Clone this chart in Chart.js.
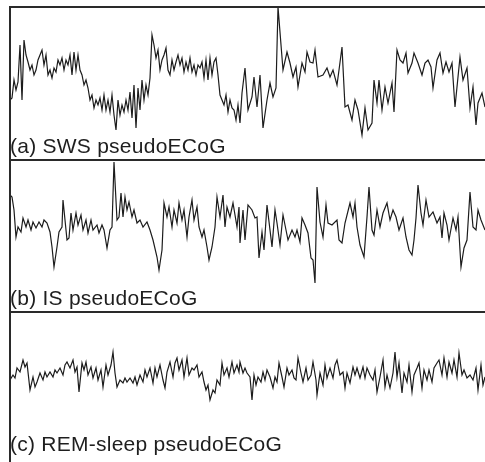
<!DOCTYPE html>
<html>
<head>
<meta charset="utf-8">
<script src="https://cdn.jsdelivr.net/npm/chart.js@4.4.1/dist/chart.umd.min.js"></script>
<style>
  html, body { margin: 0; padding: 0; background: #fff; }
  body { width: 485px; height: 462px; position: relative; overflow: hidden; }
  .panel { position: absolute; left: 10px; width: 475px; }
  .rule { position: absolute; background: #2a2a2a; }
  .label {
    position: absolute; left: 10px;
    font-family: "Liberation Sans", Arial, sans-serif;
    font-size: 21px; line-height: 21px; color: #1e1e1e;
    letter-spacing: 0.25px; white-space: nowrap;
  }
</style>
</head>
<body>
<div class="panel" style="top:7px;height:153px"><canvas id="chartA"></canvas></div>
<div class="panel" style="top:160px;height:152px"><canvas id="chartB"></canvas></div>
<div class="panel" style="top:312px;height:150px"><canvas id="chartC"></canvas></div>

<div class="rule" style="left:9px;top:6px;width:476px;height:2px"></div>
<div class="rule" style="left:9px;top:159px;width:476px;height:2px"></div>
<div class="rule" style="left:9px;top:311px;width:476px;height:2px"></div>
<div class="rule" style="left:9px;top:6px;width:2px;height:456px"></div>

<div class="label" style="top:135px">(a) SWS pseudoECoG</div>
<div class="label" style="top:287px">(b) IS pseudoECoG</div>
<div class="label" style="top:433px">(c) REM-sleep pseudoECoG</div>

<script>
// time in units of 10 ms, amplitude in arbitrary units

// --- (a) SWS ---
const aTime = [
  0,2,4,6,8,10,12,14,16,18,
  20,22,24,26,28,30,32,34,36,38,
  40,42,44,46,48,50,52,54,56,58,
  60,62,64,66,68,70,72,74,76,78,
  80,82,84,86,88,90,92,94,96,98,
  100,102,104,106,108,110,112,114,116,118,
  120,122,124,126,128,130,132,134,136,138,
  140,142,144,146,148,150,152,154,156,158,
  160,162,164,166,168,170,172,174,176,178,
  180,182,184,186,188,190,192,194,196,198,
  200,202,204,206,208,210,212,214,216,218,
  220,222,224,226,228,
  230,232,235,238,242,244,247,250,253,257,
  260,263,266,268,273,277,280,283,286,288,
  292,295,297,300,303,305,308,313,317,320,
  323,327,329,332,335,338,342,345,348,352,
  355,358,362,364,367,369,372,375,378,382,
  384,387,390,393,396,398,402,404,408,412,
  415,418,421,423,427,430,433,436,439,442,
  445,450,453,457,460,463,466,468,472,475
];
const aAmp = [
  -15,-13,5,-5,3,40,-15,45,30,23,
  15,20,10,15,25,30,35,20,30,10,
  15,7,17,13,25,20,27,15,25,20,
  30,10,33,15,30,15,10,0,5,-3,
  -15,-10,-23,-15,-20,-13,-25,-10,-25,-15,
  -27,-10,-30,-45,-15,-30,-20,-27,-15,-25,
  -7,-33,0,-43,-3,-25,5,-15,0,-10,
  7,50,40,27,35,15,25,30,37,15,
  10,25,15,23,30,20,27,13,23,15,
  27,13,20,10,20,17,23,7,25,5,
  27,10,23,27,10,-10,-15,-20,-10,-27,
  -15,-23,-25,-35,-20,
  -38,-8,17,-25,-12,8,-22,10,-43,-15,
  2,-12,-3,78,15,33,22,8,18,-2,
  22,13,33,23,22,35,8,10,17,8,
  15,0,15,38,-22,-20,-35,-15,-25,-50,
  -23,-45,-38,5,-18,5,-25,-2,-18,2,
  -27,35,25,22,32,12,22,32,22,10,
  22,25,18,-3,25,32,12,23,13,22,
  -22,28,5,17,-23,-2,-40,-18,-8,-22
];

// --- (b) IS ---
const bTime = [
  0,2,4,6,8,11,13,16,18,21,
  23,26,29,32,34,37,40,42,44,47,
  49,52,53,55,57,59,61,63,66,68,
  71,73,76,78,81,83,87,89,92,94,
  97,100,102,104,107,109,111,113,115,117,
  119,122,124,127,130,133,137,140,143,147,
  149,152,154,157,159,162,164,167,169,172,
  174,177,179,182,184,187,189,192,194,197,
  199,202,205,207,210,213,215,217,220,223,
  227,229,230,233,235,238,242,245,247,249,
  252,254,257,260,262,265,267,270,273,276,
  278,282,285,287,290,292,295,298,301,303,
  305,307,310,313,316,318,322,327,329,332,
  335,340,343,345,347,350,354,357,359,362,
  364,367,370,373,377,380,383,386,389,393,
  396,399,402,404,406,408,411,413,416,419,
  423,427,430,432,434,437,439,443,446,448,
  451,454,457,460,463,466,468,471,475
];
const bAmp = [
  35,33,20,-7,3,-2,12,3,10,0,
  8,2,8,3,10,7,-2,-17,-37,-17,
  -2,3,30,10,-10,-8,17,0,17,5,
  15,0,10,-3,10,0,5,-3,5,0,
  -18,0,3,68,10,13,37,13,33,20,
  28,13,20,7,10,3,8,0,-10,-27,
  -40,-20,27,13,23,3,20,7,27,10,
  20,-7,13,30,10,23,3,-7,0,-17,
  -30,-17,3,33,13,35,3,23,13,27,
  3,23,-13,20,-10,25,20,12,13,-28,
  -2,-20,25,0,-17,20,7,-15,15,0,
  -10,0,-7,0,-12,12,5,-3,-28,-30,
  -53,43,8,-7,25,7,5,10,-10,-13,
  7,27,13,27,3,-15,-27,13,43,0,
  -5,20,3,17,27,10,20,13,0,12,
  -7,-20,-25,-10,12,45,17,5,30,13,
  18,7,13,-8,17,5,-10,12,0,13,
  -37,-18,-10,38,3,0,20,10,0
];

// --- (c) REM-sleep ---
const cTime = [
  0,3,5,7,10,13,15,17,20,23,
  25,27,30,33,35,37,40,43,45,47,
  50,53,55,57,60,63,65,67,69,72,
  74,76,78,81,83,86,88,91,93,96,
  98,101,103,105,107,110,113,115,117,120,
  123,125,127,130,133,135,137,140,143,145,
  147,150,153,155,157,160,163,165,167,169,
  172,174,177,179,182,184,187,189,192,194,
  196,198,200,203,205,207,210,212,214,217,
  219,222,224,227,229,230,233,235,237,240,
  242,244,246,248,251,253,255,257,260,263,
  265,267,269,272,274,277,279,282,284,286,
  288,291,293,296,298,301,303,306,307,310,
  313,315,317,320,323,325,327,330,333,335,
  337,340,343,345,347,350,353,355,357,360,
  363,365,367,370,373,375,377,380,383,385,
  387,389,392,394,397,399,402,404,407,409,
  412,414,417,419,422,424,427,429,432,434,
  437,439,442,444,447,449,452,454,457,460,
  463,466,468,471,473,475
];
const cAmp = [
  -3,2,-1,9,5,17,10,14,-13,0,
  -10,-5,4,-3,5,0,5,0,7,4,
  9,2,12,15,9,17,5,10,-15,14,
  7,15,2,10,-1,9,-3,7,-10,12,
  2,12,25,4,-10,-3,-6,-1,-5,-1,
  -6,0,-8,2,-5,7,0,9,-6,9,
  0,12,-3,-11,5,15,0,14,19,7,
  17,0,19,2,9,7,12,0,5,-5,
  -13,-8,-23,-13,-16,-3,-8,14,2,9,
  0,15,4,12,5,15,4,9,4,0,
  -23,2,-8,0,-5,5,-3,7,0,-11,
  0,-5,14,0,-10,9,2,7,-1,-3,
  19,4,-5,9,-3,2,15,-3,-18,4,
  -8,12,-1,9,-1,12,17,2,5,-11,
  4,-6,10,2,9,-1,10,-1,9,2,
  -3,7,-15,0,17,-10,2,-11,4,25,
  0,14,-16,4,-5,12,-15,2,9,14,
  -11,7,-3,7,-5,9,14,17,2,19,
  0,15,4,17,0,24,2,7,-1,2,
  -3,9,-13,12,-8,0
];

const panels = [
  { id: 'chartA', time: aTime, amp: aAmp, yMin: -75, yMax: 78 },
  { id: 'chartB', time: bTime, amp: bAmp, yMin: -82, yMax: 70 },
  { id: 'chartC', time: cTime, amp: cAmp, yMin: -85, yMax: 65 }
];

panels.forEach(p => {
  const ctx = document.getElementById(p.id).getContext('2d');
  new Chart(ctx, {
    type: 'line',
    data: {
      datasets: [{
        data: p.time.map((t, i) => ({ x: t, y: p.amp[i] })),
        borderColor: '#1c1c1c',
        borderWidth: 1.2,
        pointRadius: 0,
        tension: 0,
        fill: false
      }]
    },
    options: {
      responsive: true,
      maintainAspectRatio: false,
      animation: false,
      layout: { padding: 0 },
      plugins: { legend: { display: false }, tooltip: { enabled: false } },
      scales: {
        x: { type: 'linear', min: 0, max: 475, display: false },
        y: { min: p.yMin, max: p.yMax, display: false }
      }
    }
  });
});
</script>
</body>
</html>
